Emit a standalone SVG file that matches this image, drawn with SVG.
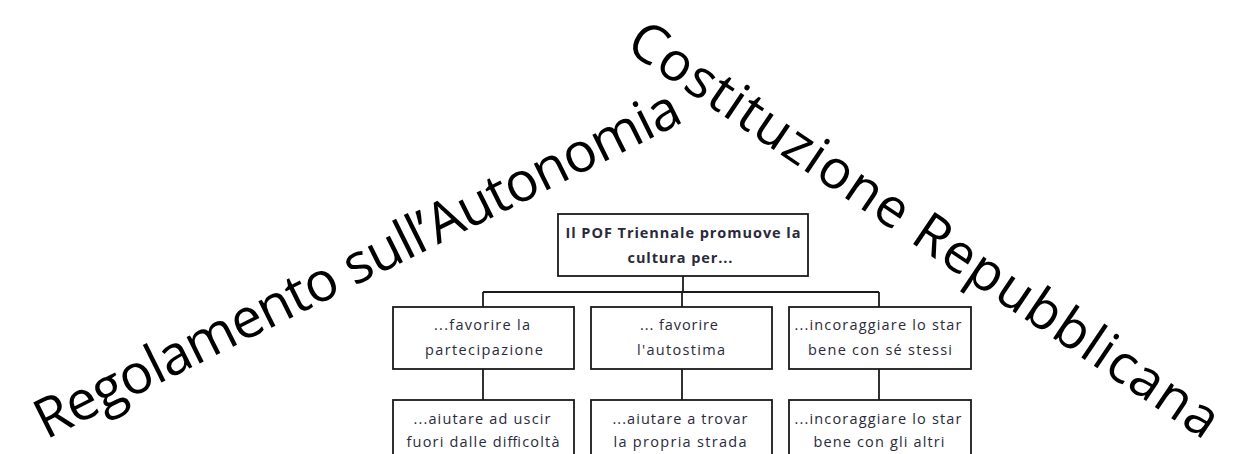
<svg xmlns="http://www.w3.org/2000/svg" width="1240" height="454" viewBox="0 0 1240 454">
<style>
.box{fill:#fff;stroke:#1a1a1a;stroke-width:1.8}
.con{stroke:#1a1a1a;stroke-width:1.8;fill:none}
.t{font-family:"Open Sans","Liberation Sans",sans-serif;font-size:14.5px;fill:#2a2a3a;text-anchor:middle}
.tb{font-weight:bold}
.big{font-family:"Open Sans","Liberation Sans",sans-serif;fill:#000}
</style>
<rect width="1240" height="454" fill="#fff"/>
<text class="big" font-size="55" transform="translate(46,440) rotate(-26.5)" textLength="714" lengthAdjust="spacing">Regolamento sull’Autonomia</text>
<text class="big" font-size="54" transform="translate(624,49) rotate(34)" textLength="700" lengthAdjust="spacing">Costituzione Repubblicana</text>
<g id="connectors">
<line class="con" x1="683" y1="276" x2="683" y2="292"/>
<line class="con" x1="483" y1="292" x2="879" y2="292"/>
<line class="con" x1="483" y1="292" x2="483" y2="307"/>
<line class="con" x1="682" y1="292" x2="682" y2="307"/>
<line class="con" x1="879" y1="292" x2="879" y2="307"/>
<line class="con" x1="483" y1="369" x2="483" y2="400"/>
<line class="con" x1="682" y1="369" x2="682" y2="400"/>
<line class="con" x1="879" y1="369" x2="879" y2="400"/>
</g>
<g id="root">
<rect class="box" x="558" y="214" width="250" height="62"/>
<text class="t tb" x="683" y="238" textLength="235" lengthAdjust="spacing">Il POF Triennale promuove la</text>
<text class="t tb" x="680" y="263" textLength="105" lengthAdjust="spacing">cultura per...</text>
</g>
<g id="n1">
<rect class="box" x="393" y="307" width="181" height="62"/>
<text class="t" x="482" y="330" textLength="96" lengthAdjust="spacing">...favorire la</text>
<text class="t" x="484" y="355" textLength="118" lengthAdjust="spacing">partecipazione</text>
</g>
<g id="n2">
<rect class="box" x="591" y="307" width="181" height="62"/>
<text class="t" x="679" y="330" textLength="78" lengthAdjust="spacing">... favorire</text>
<text class="t" x="681" y="355" textLength="88" lengthAdjust="spacing">l'autostima</text>
</g>
<g id="n3">
<rect class="box" x="789" y="307" width="182" height="62"/>
<text class="t" x="878" y="330" textLength="167" lengthAdjust="spacing">...incoraggiare lo star</text>
<text class="t" x="880" y="355" textLength="144" lengthAdjust="spacing">bene con sé stessi</text>
</g>
<g id="n4">
<rect class="box" x="393" y="400" width="181" height="62"/>
<text class="t" x="482" y="424" textLength="137" lengthAdjust="spacing">...aiutare ad uscir</text>
<text class="t" x="483" y="447" textLength="153" lengthAdjust="spacing">fuori dalle difficoltà</text>
</g>
<g id="n5">
<rect class="box" x="591" y="400" width="181" height="62"/>
<text class="t" x="680" y="424" textLength="135" lengthAdjust="spacing">...aiutare a trovar</text>
<text class="t" x="680" y="447" textLength="133" lengthAdjust="spacing">la propria strada</text>
</g>
<g id="n6">
<rect class="box" x="789" y="400" width="182" height="62"/>
<text class="t" x="878" y="424" textLength="167" lengthAdjust="spacing">...incoraggiare lo star</text>
<text class="t" x="879" y="447" textLength="131" lengthAdjust="spacing">bene con gli altri</text>
</g>
</svg>
